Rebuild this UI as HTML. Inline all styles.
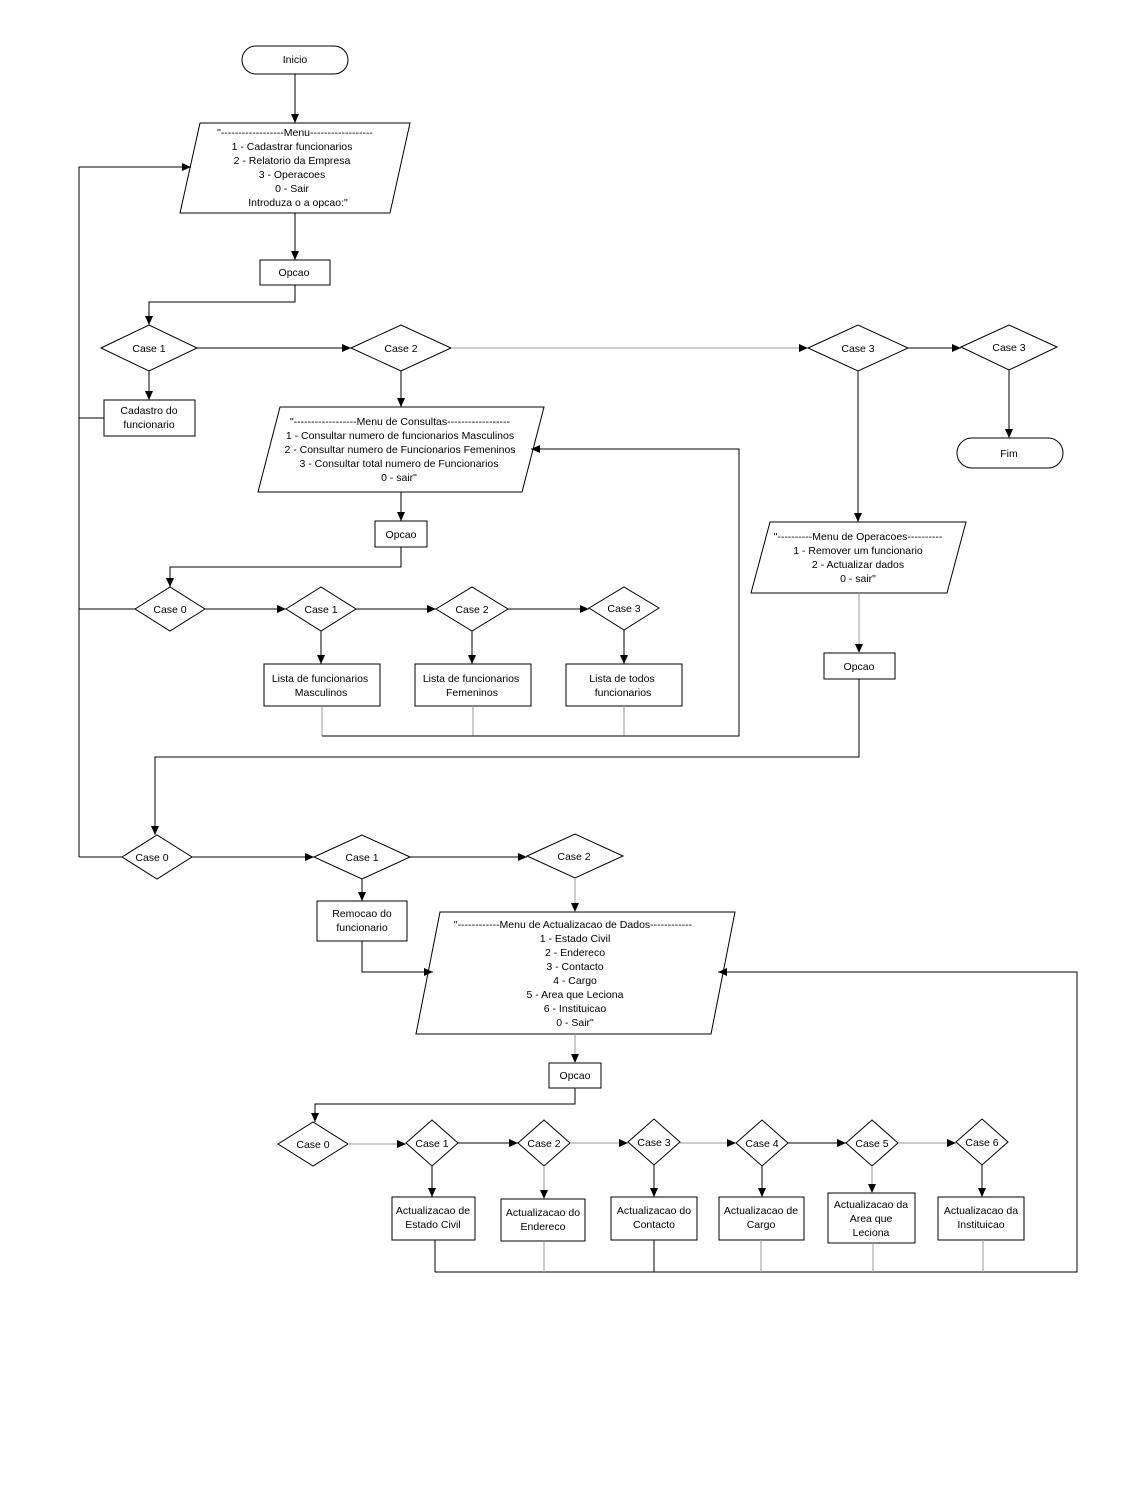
<!DOCTYPE html>
<html><head><meta charset="utf-8"><style>
html,body{margin:0;padding:0;background:#fff;}
svg{display:block;}
text{font-family:"Liberation Sans",Arial,sans-serif;font-size:10.5px;fill:#000;}
</style></head><body>
<svg width="1123" height="1510" viewBox="0 0 1123 1510" xmlns="http://www.w3.org/2000/svg">
<defs>
<marker id="a" markerWidth="10" markerHeight="10" refX="9" refY="4" orient="auto" markerUnits="userSpaceOnUse">
<path d="M0,0 L9,4 L0,8 z" fill="#000"/></marker>
</defs>
<g fill="#fff" stroke="#000" stroke-width="1">
<!-- Inicio -->
<rect x="242" y="46" width="106" height="28" rx="14"/>
<polygon points="200,123 410,123 390,213 180,213"/>
<rect x="260" y="260" width="70" height="25"/>
<polygon points="101,348 149,325 197,348 149,371"/>
<polygon points="351,348 401,325 451,348 401,371"/>
<polygon points="808,348 858,325 908,348 858,371"/>
<polygon points="961,347 1009,325 1057,347 1009,370"/>
<rect x="104" y="400" width="91" height="36"/>
<rect x="957" y="438" width="106" height="30" rx="15"/>
<polygon points="280,407 544,407 522,492 258,492"/>
<rect x="375" y="521" width="52" height="26"/>
<polygon points="135,609 170,587 205,609 170,631"/>
<polygon points="286,609 321,587 356,609 321,631"/>
<polygon points="436,609 472,587 508,609 472,631"/>
<polygon points="589,608 624,587 659,608 624,630"/>
<rect x="264" y="664" width="116" height="42"/>
<rect x="415" y="664" width="116" height="42"/>
<rect x="566" y="664" width="116" height="42"/>
<polygon points="770,522 966,522 947,593 751,593"/>
<rect x="824" y="653" width="71" height="26"/>
<polygon points="122,857 157,835 192,857 157,879"/>
<polygon points="314,857 362,835 410,857 362,879"/>
<polygon points="527,856 575,834 623,856 575,878"/>
<rect x="317" y="901" width="90" height="40"/>
<polygon points="440,912 735,912 711,1034 416,1034"/>
<rect x="549" y="1063" width="52" height="25"/>
<polygon points="278,1144 313,1122 348,1144 313,1166"/>
<polygon points="406,1143 432,1120 458,1143 432,1166"/>
<polygon points="518,1143 544,1120 570,1143 544,1166"/>
<polygon points="628,1142 654,1119 680,1142 654,1165"/>
<polygon points="736,1143 762,1120 788,1143 762,1166"/>
<polygon points="846,1143 872,1120 898,1143 872,1166"/>
<polygon points="956,1142 982,1119 1008,1142 982,1165"/>
<rect x="392" y="1197" width="83" height="43"/>
<rect x="501" y="1199" width="84" height="42"/>
<rect x="611" y="1197" width="86" height="43"/>
<rect x="719" y="1197" width="85" height="43"/>
<rect x="828" y="1193" width="87" height="50"/>
<rect x="938" y="1197" width="86" height="43"/>
</g>
<g fill="none" stroke="#000" stroke-width="1">
<path d="M295,74 V123" marker-end="url(#a)"/>
<path d="M295,213 V260" marker-end="url(#a)"/>
<path d="M295,285 V302 H149 V325" marker-end="url(#a)"/>
<path d="M197,348 H351" marker-end="url(#a)"/>
<path d="M451,348 H808" stroke="#999" marker-end="url(#a)"/>
<path d="M908,348 H961" marker-end="url(#a)"/>
<path d="M149,371 V400" marker-end="url(#a)"/>
<path d="M401,371 V407" marker-end="url(#a)"/>
<path d="M1009,370 V438" marker-end="url(#a)"/>
<path d="M858,371 V522" marker-end="url(#a)"/>
<path d="M104,418 H79"/>
<path d="M79,857 V167 H191" marker-end="url(#a)"/>
<path d="M401,492 V521" marker-end="url(#a)"/>
<path d="M401,547 V567 H170 V587" marker-end="url(#a)"/>
<path d="M135,609 H79"/>
<path d="M205,609 H286" marker-end="url(#a)"/>
<path d="M356,609 H436" marker-end="url(#a)"/>
<path d="M508,609 H589" marker-end="url(#a)"/>
<path d="M321,631 V664" marker-end="url(#a)"/>
<path d="M472,631 V664" marker-end="url(#a)"/>
<path d="M624,630 V664" marker-end="url(#a)"/>
<path d="M322,706 V736 M473,706 V736 M624,706 V736" stroke="#999"/>
<path d="M322,736 H739 V449 H531" marker-end="url(#a)"/>
<path d="M859,593 V653" stroke="#999" marker-end="url(#a)"/>
<path d="M859,679 V757 H155 V835" marker-end="url(#a)"/>
<path d="M122,857 H79"/>
<path d="M192,857 H314" marker-end="url(#a)"/>
<path d="M410,857 H527" marker-end="url(#a)"/>
<path d="M362,879 V901" marker-end="url(#a)"/>
<path d="M575,878 V912" stroke="#999" marker-end="url(#a)"/>
<path d="M362,941 V972 H433" marker-end="url(#a)"/>
<path d="M435,1272 H1077 V972 H718" marker-end="url(#a)"/>
<path d="M575,1034 V1063" stroke="#999" marker-end="url(#a)"/>
<path d="M575,1088 V1104 H315 V1122" marker-end="url(#a)"/>
<path d="M348,1144 H406" stroke="#999" marker-end="url(#a)"/>
<path d="M458,1143 H518" marker-end="url(#a)"/>
<path d="M570,1143 H628" stroke="#999" marker-end="url(#a)"/>
<path d="M680,1143 H736" stroke="#999" marker-end="url(#a)"/>
<path d="M788,1143 H846" marker-end="url(#a)"/>
<path d="M898,1143 H956" stroke="#999" marker-end="url(#a)"/>
<path d="M432,1166 V1197" marker-end="url(#a)"/>
<path d="M544,1166 V1199" stroke="#999" marker-end="url(#a)"/>
<path d="M654,1165 V1197" marker-end="url(#a)"/>
<path d="M762,1166 V1197" marker-end="url(#a)"/>
<path d="M872,1166 V1193" stroke="#999" marker-end="url(#a)"/>
<path d="M982,1165 V1197" marker-end="url(#a)"/>
<path d="M435,1240 V1272 M654,1240 V1272" />
<path d="M544,1241 V1272 M761,1240 V1272 M873,1243 V1272 M983,1240 V1272" stroke="#999"/>
</g>
<g text-anchor="middle">
<text x="295" y="63">Inicio</text>
<text x="295" y="136">"------------------Menu------------------</text>
<text x="292" y="150">1 - Cadastrar funcionarios</text>
<text x="292" y="164">2 - Relatorio da Empresa</text>
<text x="292" y="178">3 - Operacoes</text>
<text x="292" y="192">0 - Sair</text>
<text x="298" y="206">Introduza o a opcao:"</text>
<text x="294" y="276">Opcao</text>
<text x="149" y="352">Case 1</text>
<text x="401" y="352">Case 2</text>
<text x="858" y="352">Case 3</text>
<text x="1009" y="351">Case 3</text>
<text x="149" y="414">Cadastro do</text>
<text x="149" y="428">funcionario</text>
<text x="1009" y="457">Fim</text>
<text x="400" y="425">"------------------Menu de Consultas------------------</text>
<text x="400" y="439">1 - Consultar numero de funcionarios Masculinos</text>
<text x="400" y="453">2 - Consultar numero de Funcionarios Femeninos</text>
<text x="399" y="467">3 - Consultar total numero de Funcionarios</text>
<text x="399" y="481">0 - sair"</text>
<text x="401" y="538">Opcao</text>
<text x="170" y="613">Case 0</text>
<text x="321" y="613">Case 1</text>
<text x="472" y="613">Case 2</text>
<text x="624" y="612">Case 3</text>
<text x="320" y="682">Lista de funcionarios</text>
<text x="321" y="696">Masculinos</text>
<text x="471" y="682">Lista de funcionarios</text>
<text x="472" y="696">Femeninos</text>
<text x="622" y="682">Lista de todos</text>
<text x="623" y="696">funcionarios</text>
<text x="858" y="540">"----------Menu de Operacoes----------</text>
<text x="858" y="554">1 - Remover um funcionario</text>
<text x="858" y="568">2 - Actualizar dados</text>
<text x="858" y="582">0 - sair"</text>
<text x="859" y="670">Opcao</text>
<text x="152" y="861">Case 0</text>
<text x="362" y="861">Case 1</text>
<text x="574" y="860">Case 2</text>
<text x="362" y="917">Remocao do</text>
<text x="362" y="931">funcionario</text>
<text x="573" y="928">"------------Menu de Actualizacao de Dados------------</text>
<text x="575" y="942">1 - Estado Civil</text>
<text x="575" y="956">2 - Endereco</text>
<text x="575" y="970">3 - Contacto</text>
<text x="575" y="984">4 - Cargo</text>
<text x="575" y="998">5 - Area que Leciona</text>
<text x="575" y="1012">6 - Instituicao</text>
<text x="575" y="1026">0 - Sair"</text>
<text x="575" y="1079">Opcao</text>
<text x="313" y="1148">Case 0</text>
<text x="432" y="1147">Case 1</text>
<text x="544" y="1147">Case 2</text>
<text x="654" y="1146">Case 3</text>
<text x="762" y="1147">Case 4</text>
<text x="872" y="1147">Case 5</text>
<text x="982" y="1146">Case 6</text>
<text x="433" y="1214">Actualizacao de</text>
<text x="433" y="1228">Estado Civil</text>
<text x="543" y="1216">Actualizacao do</text>
<text x="543" y="1230">Endereco</text>
<text x="654" y="1214">Actualizacao do</text>
<text x="654" y="1228">Contacto</text>
<text x="761" y="1214">Actualizacao de</text>
<text x="761" y="1228">Cargo</text>
<text x="871" y="1208">Actualizacao da</text>
<text x="871" y="1222">Area que</text>
<text x="871" y="1236">Leciona</text>
<text x="981" y="1214">Actualizacao da</text>
<text x="981" y="1228">Instituicao</text>
</g>
</svg>
</body></html>
